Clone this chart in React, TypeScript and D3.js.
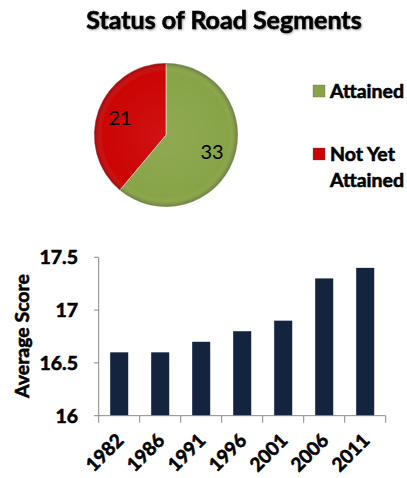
import React from "react";
import * as d3 from "d3";

const pieCategories = ["Attained", "Not Yet Attained"];
const pieValues = [33, 21];
const pieColors = ["#88A447", "#CC0404"];

const years = ["1982", "1986", "1991", "1996", "2001", "2006", "2011"];
const scores = [16.6, 16.6, 16.7, 16.8, 16.9, 17.3, 17.4];
const yTicks = [16, 16.5, 17, 17.5];

const FONT = "Lato, 'Open Sans', sans-serif";
const heavy = { stroke: "#000", strokeWidth: 0.6, paintOrder: "stroke" as const };

export default function App() {
  const W = 407, H = 478;
  // pie
  const cx = 166, cy = 135, R = 72;
  const pie = d3.pie<number>().sort(null).value((d) => d);
  const arcs = pie(pieValues);
  const arcGen = d3.arc<d3.PieArcDatum<number>>().innerRadius(0).outerRadius(R);
  const labelArc = d3.arc<d3.PieArcDatum<number>>().innerRadius(R * 0.68).outerRadius(R * 0.68);

  // bars
  const x = d3.scaleBand<string>().domain(years).range([98.7, 385.7]).paddingInner(0.56).paddingOuter(0.28);
  const y = d3.scaleLinear().domain([16, 17.5]).range([415.7, 257.3]);
  const boundaries = years.map((yr) => (x(yr) as number) - (x.step() - x.bandwidth()) / 2);
  boundaries.push(x.range()[1]);

  return (
    <svg width={W} height={H} style={{ position: "absolute", left: 0, top: 0 }}>
      <defs>
        <radialGradient id="bevel" cx="50%" cy="50%" r="50%">
          <stop offset="0%" stopColor="#fff" stopOpacity={0.06} />
          <stop offset="88%" stopColor="#fff" stopOpacity={0} />
          <stop offset="100%" stopColor="#000" stopOpacity={0.25} />
        </radialGradient>
        <filter id="tshadow" x="-10%" y="-30%" width="120%" height="160%">
          <feDropShadow dx="1" dy="1" stdDeviation="0.8" floodColor="#000" floodOpacity="0.35" />
        </filter>
      </defs>
      <rect width={W} height={H} fill="#fff" />
      <text x={224} y={29} textAnchor="middle" fontFamily={FONT} fontWeight="bold" fontSize={25} fill="#000" filter="url(#tshadow)" {...heavy}>
        Status of Road Segments
      </text>
      <g transform={`translate(${cx},${cy})`}>
        {arcs.map((a, i) => (
          <path key={i} d={arcGen(a) as string} fill={pieColors[i]} stroke="#fff" strokeWidth={0.5} />
        ))}
        <circle r={R} fill="url(#bevel)" />
        {arcs.map((a, i) => {
          const [lx, ly] = labelArc.centroid(a);
          return (
            <text key={i} x={lx} y={ly} dy="0.35em" textAnchor="middle" fontFamily={FONT} fontSize={20} fill="#000">
              {pieValues[i]}
            </text>
          );
        })}
      </g>
      {/* legend */}
      {pieCategories.map((c, i) => {
        const ly = 91 + i * 63;
        const lines = i === 0 ? ["Attained"] : ["Not Yet", "Attained"];
        return (
          <g key={c}>
            <rect x={313} y={ly - 6} width={12} height={12} fill={pieColors[i]} stroke="#555" strokeWidth={0.3} />
            {lines.map((t, j) => (
              <text key={j} x={330} y={ly + 7 + j * 26} fontFamily={FONT} fontWeight="bold" fontSize={19.5} fill="#000" {...heavy}>
                {t}
              </text>
            ))}
          </g>
        );
      })}
      {/* bar chart */}
      {years.map((yr, i) => (
        <rect key={yr} x={x(yr)} y={y(scores[i])} width={x.bandwidth()} height={y(16) - y(scores[i])} fill="#14243F" />
      ))}
      <line x1={98.7} x2={98.7} y1={y(17.5)} y2={y(16)} stroke="#888" strokeWidth={1} />
      {yTicks.map((t) => (
        <g key={t}>
          <line x1={94} x2={98.7} y1={y(t)} y2={y(t)} stroke="#888" />
          <text x={78} y={y(t)} dy="0.36em" textAnchor="end" fontFamily={FONT} fontWeight="bold" fontSize={19.5} fill="#000" {...heavy}>
            {t}
          </text>
        </g>
      ))}
      <line x1={98.7} x2={385.7} y1={y(16)} y2={y(16)} stroke="#888" />
      {boundaries.map((b, i) => (
        <line key={i} x1={b} x2={b} y1={y(16)} y2={y(16) + 7} stroke="#888" />
      ))}
      {years.map((yr) => {
        const c = (x(yr) as number) + x.bandwidth() / 2;
        return (
          <text key={yr} transform={`translate(${c - 4},${432}) rotate(-45)`} textAnchor="end" dy="0.72em" fontFamily={FONT} fontWeight="bold" fontSize={19} fill="#000" {...heavy}>
            {yr}
          </text>
        );
      })}
      <text transform={`translate(29,336) rotate(-90)`} textAnchor="middle" fontFamily={FONT} fontWeight="bold" fontSize={19.5} fill="#000" {...heavy}>
        Average Score
      </text>
    </svg>
  );
}
